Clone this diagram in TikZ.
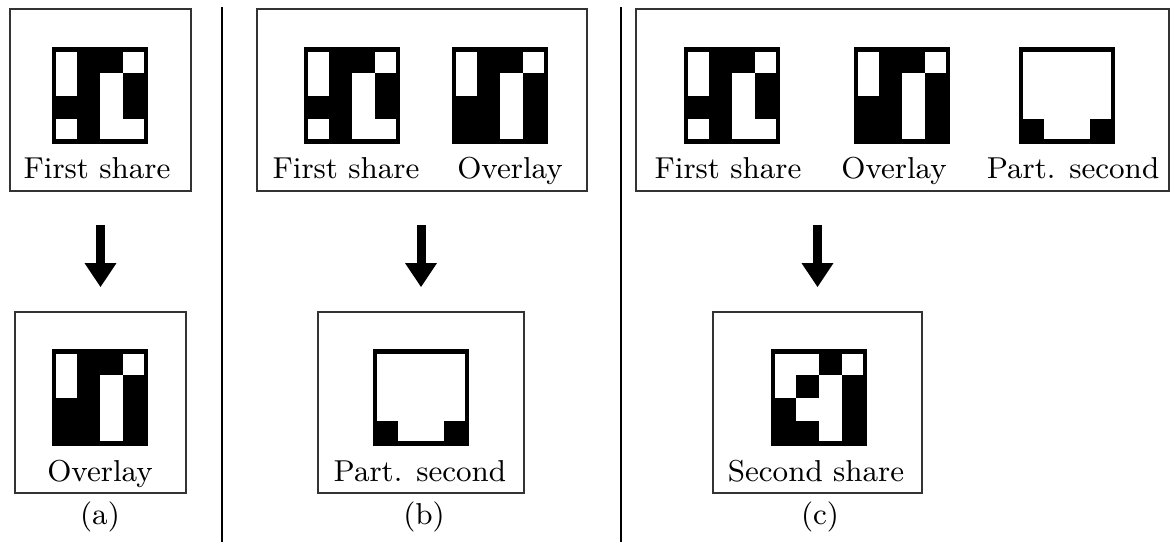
\documentclass[tikz,border=0pt]{standalone}
\usepackage{tikz}
\usetikzlibrary{positioning,arrows.meta}

% one 4x4 share: #1 centre, #2 black cells as col/row
\newcommand{\sharegrid}[2]{%
  \begin{scope}[shift={#1}]
    \foreach \c/\r in {#2}
      \fill (23*\c-69,23*\r-69) rectangle ++(23,23);
    \draw[line width=0.45mm] (-46,-46) rectangle (46,46);
  \end{scope}}

\tikzset{
  sharebox/.style={draw=black!80, minimum width=#1, minimum height=1.82cm, inner sep=0pt},
  sharelabel/.style={anchor=base, inner sep=0pt, font=\fontsize{8.6}{10}\selectfont},
  subcap/.style={inner sep=0pt, font=\fontsize{8.6}{10}\selectfont},
  bigarrow/.style={line width=0.09cm, -{Triangle[width=0.30cm, length=0.24cm]},
    shorten <=0.33cm, shorten >=0.24cm}
}

\begin{document}
\begin{tikzpicture}[x=0.01cm, y=-0.01cm]
\useasboundingbox (0,0) rectangle (1171,542);

% separators
\draw (222,7) -- (222,542);
\draw (621,7) -- (621,542);

% (a)
\node[sharebox=1.81cm] (topA) at (100.5,100) {};
\sharegrid{(100,95.5)}{2/1,3/1,2/2,4/2,1/3,2/3,4/3,2/4}
\node[sharelabel] (lblA) at (97,178) {First share};
\node[sharebox=1.71cm, minimum height=1.81cm] (botA) at (100.5,402.5) {};
\sharegrid{(100,397.5)}{2/1,3/1,2/2,4/2,1/3,2/3,4/3,1/4,2/4,4/4}
\node[sharelabel] (lblAo) at (100,481) {Overlay};
\node[subcap] (capA) at (100,517) {(a)};
\draw[bigarrow] (topA.south -| botA.north) -- (botA.north);

% (b)
\node[sharebox=3.30cm] (topB) at (422,100) {};
\sharegrid{(352,95.5)}{2/1,3/1,2/2,4/2,1/3,2/3,4/3,2/4}
\sharegrid{(500,95.5)}{2/1,3/1,2/2,4/2,1/3,2/3,4/3,1/4,2/4,4/4}
\node[sharelabel] (lblB1) at (346,178) {First share};
\node[sharelabel] (lblB2) at (510,178) {Overlay};
\node[sharebox=2.06cm, minimum height=1.81cm] (botB) at (421,402.5) {};
\sharegrid{(421,397.5)}{1/4,4/4}
\node[sharelabel] (lblBp) at (420,481) {Part. second};
\node[subcap] (capB) at (424,517) {(b)};
\draw[bigarrow] (topB.south -| botB.north) -- (botB.north);

% (c)
\node[sharebox=5.33cm] (topC) at (902.5,100) {};
\sharegrid{(732,95.5)}{2/1,3/1,2/2,4/2,1/3,2/3,4/3,2/4}
\sharegrid{(902,95.5)}{2/1,3/1,2/2,4/2,1/3,2/3,4/3,1/4,2/4,4/4}
\sharegrid{(1067,95.5)}{1/4,4/4}
\node[sharelabel] (lblC1) at (728,178) {First share};
\node[sharelabel] (lblC2) at (894,178) {Overlay};
\node[sharelabel] (lblC3) at (1073,178) {Part. second};
\node[sharebox=2.09cm, minimum height=1.81cm] (botC) at (817.5,402.5) {};
\sharegrid{(819,397.5)}{3/1,2/2,4/2,1/3,4/3,1/4,2/4,4/4}
\node[sharelabel] (lblCs) at (816,481) {Second share};
\node[subcap] (capC) at (820,517) {(c)};
\draw[bigarrow] (topC.south -| botC.north) -- (botC.north);
\end{tikzpicture}
\end{document}
